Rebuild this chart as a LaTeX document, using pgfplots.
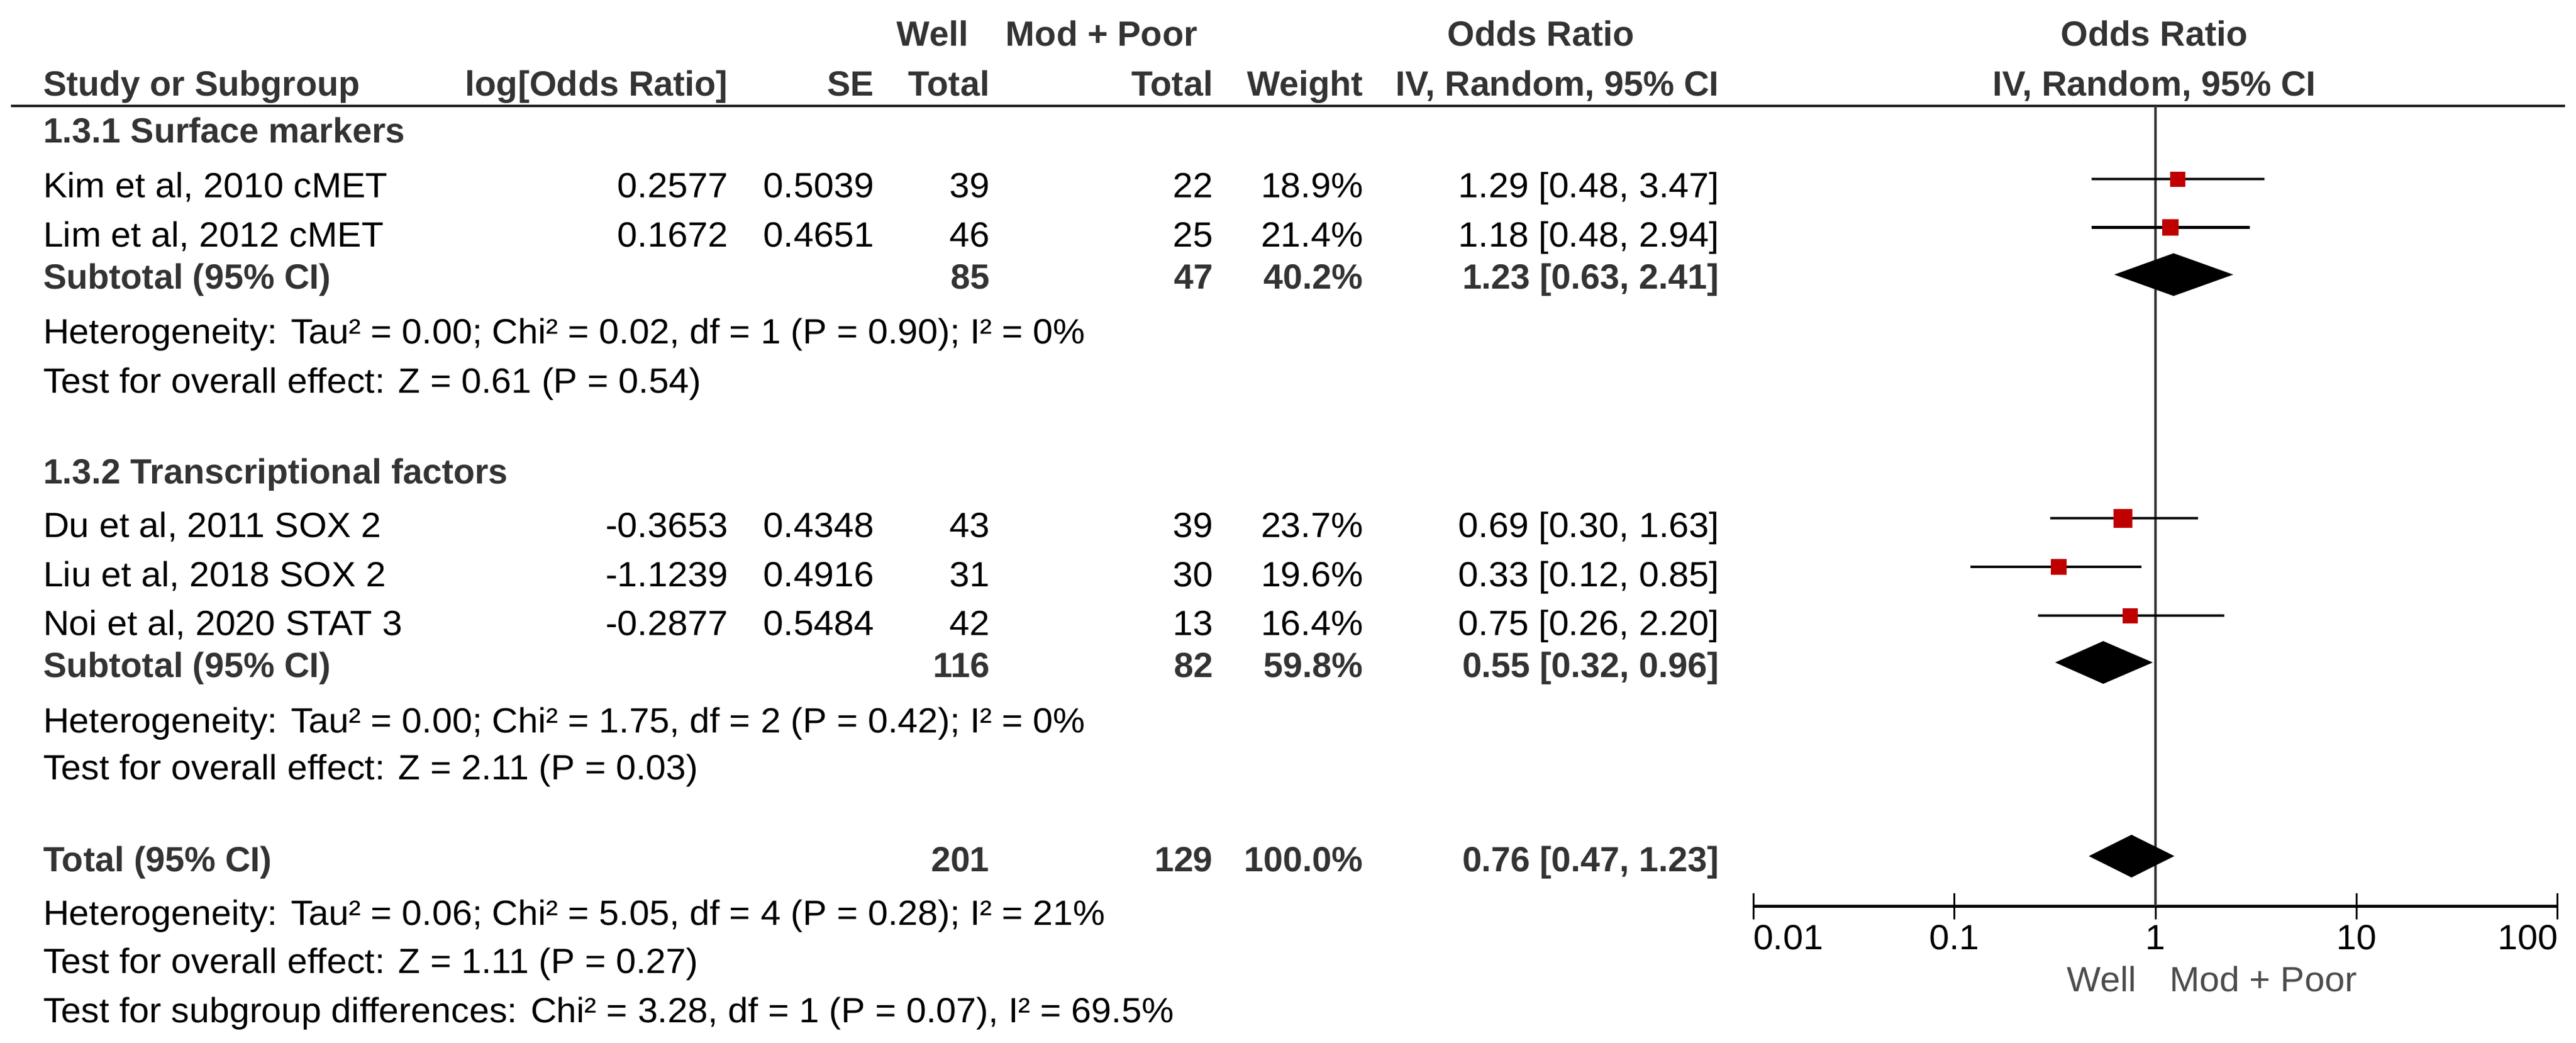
\documentclass[border=0pt]{standalone}
\usepackage{fontspec}
\setmainfont{Liberation Sans}[FakeStretch=1.03, BoldFeatures={FakeStretch=1.0}]
\usepackage{pgfplots}
\pgfplotsset{compat=1.18}
\usepackage{pgfplotstable}

\definecolor{revred}{HTML}{C00000}
\definecolor{ink}{HTML}{333333}
\newcommand\fs{\fontsize{11.5}{14}\selectfont}

% or, 95% CI, row position (px from top, negated), square side (px)
\pgfplotstableread{
or   lo   hi   y      s
1.29 0.48 3.47 -294   24
1.18 0.48 2.94 -373.5 26
0.69 0.30 1.63 -851   30
0.33 0.12 0.85 -931   25
0.75 0.26 2.20 -1011  24
}\studies

\begin{document}
\begin{tikzpicture}[font=\fs]
\useasboundingbox (0,0) rectangle (846.6pt,-342.6pt);

\begin{scope}[x=0.2pt, y=-0.2pt,
  L/.style={anchor=base west, inner sep=0pt},
  R/.style={anchor=base east, inner sep=0pt},
  C/.style={anchor=base, inner sep=0pt},
  B/.style={font=\fs\bfseries, text=ink}]

% header
\node[L,B] at (1473,76) {Well};
\node[L,B] at (1652,76) {Mod + Poor};
\node[C,B] at (2532,76) {Odds Ratio};
\node[C,B] at (3540,76) {Odds Ratio};
\node[L,B] at (70,157) {Study or Subgroup};
\node[R,B] at (1197,157) {log[Odds Ratio]};
\node[R,B] at (1437,157) {SE};
\node[R,B] at (1627,157) {Total};
\node[R,B] at (1994,157) {Total};
\node[R,B] at (2241,157) {Weight};
\node[R,B] at (2826,157) {IV, Random, 95\% CI};
\node[C,B] at (3540,157) {IV, Random, 95\% CI};
\draw[line width=0.9pt, black!90] (18,174) -- (4215,174);

% 1.3.1
\node[L,B] at (70,235) {1.3.1 Surface markers};
\node[L] at (70,325) {Kim et al, 2010 cMET};
\node[R] at (1197,325) {0.2577}; \node[R] at (1437,325) {0.5039};
\node[R] at (1627,325) {39}; \node[R] at (1994,325) {22};
\node[R] at (2241,325) {18.9\%}; \node[R] at (2826,325) {1.29 [0.48, 3.47]};
\node[L] at (70,406) {Lim et al, 2012 cMET};
\node[R] at (1197,406) {0.1672}; \node[R] at (1437,406) {0.4651};
\node[R] at (1627,406) {46}; \node[R] at (1994,406) {25};
\node[R] at (2241,406) {21.4\%}; \node[R] at (2826,406) {1.18 [0.48, 2.94]};
\node[L,B] at (70,475) {Subtotal (95\% CI)};
\node[R,B] at (1627,475) {85}; \node[R,B] at (1994,475) {47};
\node[R,B] at (2241,475) {40.2\%}; \node[R,B] at (2826,475) {1.23 [0.63, 2.41]};
\node[L] at (70,565) {Heterogeneity: Tau² = 0.00; Chi² = 0.02, df = 1 (P = 0.90); I² = 0\%};
\node[L] at (70,646) {Test for overall effect: Z = 0.61 (P = 0.54)};

% 1.3.2
\node[L,B] at (70,795) {1.3.2 Transcriptional factors};
\node[L] at (70,883) {Du et al, 2011 SOX 2};
\node[R] at (1197,883) {-0.3653}; \node[R] at (1437,883) {0.4348};
\node[R] at (1627,883) {43}; \node[R] at (1994,883) {39};
\node[R] at (2241,883) {23.7\%}; \node[R] at (2826,883) {0.69 [0.30, 1.63]};
\node[L] at (70,964) {Liu et al, 2018 SOX 2};
\node[R] at (1197,964) {-1.1239}; \node[R] at (1437,964) {0.4916};
\node[R] at (1627,964) {31}; \node[R] at (1994,964) {30};
\node[R] at (2241,964) {19.6\%}; \node[R] at (2826,964) {0.33 [0.12, 0.85]};
\node[L] at (70,1044) {Noi et al, 2020 STAT 3};
\node[R] at (1197,1044) {-0.2877}; \node[R] at (1437,1044) {0.5484};
\node[R] at (1627,1044) {42}; \node[R] at (1994,1044) {13};
\node[R] at (2241,1044) {16.4\%}; \node[R] at (2826,1044) {0.75 [0.26, 2.20]};
\node[L,B] at (70,1113) {Subtotal (95\% CI)};
\node[R,B] at (1627,1113) {116}; \node[R,B] at (1994,1113) {82};
\node[R,B] at (2241,1113) {59.8\%}; \node[R,B] at (2826,1113) {0.55 [0.32, 0.96]};
\node[L] at (70,1204) {Heterogeneity: Tau² = 0.00; Chi² = 1.75, df = 2 (P = 0.42); I² = 0\%};
\node[L] at (70,1281) {Test for overall effect: Z = 2.11 (P = 0.03)};

% total
\node[L,B] at (70,1432) {Total (95\% CI)};
\node[R,B] at (1627,1432) {201}; \node[R,B] at (1994,1432) {129};
\node[R,B] at (2241,1432) {100.0\%}; \node[R,B] at (2826,1432) {0.76 [0.47, 1.23]};
\node[L] at (70,1520) {Heterogeneity: Tau² = 0.06; Chi² = 5.05, df = 4 (P = 0.28); I² = 21\%};
\node[L] at (70,1599) {Test for overall effect: Z = 1.11 (P = 0.27)};
\node[L] at (70,1680) {Test for subgroup differences: Chi² = 3.28, df = 1 (P = 0.07), I² = 69.5\%};

% direction labels under the scale
\node[C, text=black!70] at (3454,1629) {Well};
\node[C, text=black!70] at (3719,1629) {Mod + Poor};
\end{scope}

\begin{axis}[
  at={(576.2pt,-297.6pt)}, anchor=south west,
  scale only axis, width=264.4pt, height=262.8pt,
  xmode=log, xmin=0.01, xmax=100,
  ymin=-1488, ymax=-174,
  clip=false,
  axis y line=none, axis x line=bottom,
  x axis line style={-, line width=1pt, draw=black},
  xtick={0.01,0.1,1,10,100},
  xticklabels={\rlap{0.01},0.1,1,10,\llap{100}},
  minor tick length=0pt,
  major tick length=8.6pt, tick align=center,
  tick style={black, line width=0.6pt},
  xticklabel style={font=\fs, anchor=base, inner sep=0pt, yshift=-9.9pt},
]
\addplot[ink, line width=0.7pt] coordinates {(1,-174) (1,-1488)};

\addplot[black, line width=0.85pt] coordinates {(0.48,-294) (3.47,-294)};
\addplot[black, line width=0.85pt] coordinates {(0.48,-373.5) (2.94,-373.5)};
\addplot[black, line width=0.85pt] coordinates {(0.30,-851) (1.63,-851)};
\addplot[black, line width=0.85pt] coordinates {(0.12,-931) (0.85,-931)};
\addplot[black, line width=0.85pt] coordinates {(0.26,-1011) (2.20,-1011)};

\addplot[scatter, only marks, mark=square*,
  scatter/use mapped color={draw=revred, fill=revred},
  mark options={line width=0.1pt},
  visualization depends on={0.1*\thisrow{s} \as \msz},
  scatter/@pre marker code/.append style={/tikz/mark size=\msz pt}]
  table[x=or, y=y] \studies;

\addplot[fill=black, draw=black, line width=0.2pt]
  coordinates {(0.63,-451) (1.23,-416.5) (2.41,-451) (1.23,-485.5)} -- cycle;
\addplot[fill=black, draw=black, line width=0.2pt]
  coordinates {(0.32,-1088) (0.55,-1053.5) (0.96,-1088) (0.55,-1122.5)} -- cycle;
\addplot[fill=black, draw=black, line width=0.2pt]
  coordinates {(0.47,-1406) (0.76,-1371.5) (1.23,-1406) (0.76,-1440.5)} -- cycle;
\end{axis}
\end{tikzpicture}
\end{document}
